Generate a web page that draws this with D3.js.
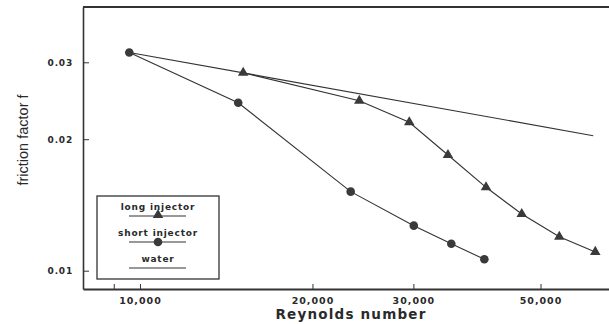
<!DOCTYPE html>
<html>
<head>
<meta charset="utf-8">
<script src="https://cdn.jsdelivr.net/npm/d3@7"></script>
<style>
  body { margin: 0; background: #fff; }
  svg { display: block; }
  .tick text { font-family: "DejaVu Sans", sans-serif; font-weight: bold; fill: #2a2a2a; }
  .legend text { font-family: "DejaVu Sans", sans-serif; font-weight: bold; font-size: 9px; fill: #2a2a2a; }
</style>
</head>
<body>
<div id="chart"></div>
<script>
// values (log-log plot)
const longRe = [15140, 24140, 29510, 34470, 40170, 46370, 53920, 62310];
const longF = [0.02839, 0.02449, 0.02186, 0.01840, 0.01552, 0.01348, 0.01196, 0.01104];

const shortRe = [9580, 14840, 23320, 30050, 34940, 39900];
const shortF = [0.0316, 0.02424, 0.01517, 0.01268, 0.01153, 0.01062];

const waterRe = [9580, 61800];
const waterF = [0.0316, 0.02037];

const xTicks = [9000, 10000, 20000, 30000, 50000];
const xTickLabels = ['', '10,000', '20,000', '30,000', '50,000'];
const yTicks = [0.01, 0.02, 0.03];
const yTickLabels = ['0.01', '0.02', '0.03'];

const legendNames = ['long injector', 'short injector', 'water'];

const width = 609, height = 324;
const plotLeft = 83, plotTop = 7, plotBottom = 289, plotRight = 611;
const ink = '#333';

const svg = d3.select('#chart').append('svg')
    .attr('width', width)
    .attr('height', height);

// scales
const x = d3.scaleLog().domain([7954, 66370]).range([plotLeft, plotRight]);
const y = d3.scaleLog().domain([0.00908, 0.04015]).range([plotBottom, plotTop]);

const zip = (xs, ys) => xs.map((v, i) => ({ re: v, f: ys[i] }));
const longData = zip(longRe, longF);
const shortData = zip(shortRe, shortF);
const waterData = zip(waterRe, waterF);

// axes, ticks point inward
const xAxis = d3.axisBottom(x)
    .tickValues(xTicks)
    .tickFormat((d, i) => xTickLabels[i])
    .tickSizeInner(-5)
    .tickSizeOuter(0)
    .tickPadding(8);

const yAxis = d3.axisLeft(y)
    .tickValues(yTicks)
    .tickFormat((d, i) => yTickLabels[i])
    .tickSizeInner(-6)
    .tickSizeOuter(0)
    .tickPadding(10);

const xAxisG = svg.append('g')
    .attr('transform', `translate(0,${plotBottom})`)
    .call(xAxis);
xAxisG.select('.domain').attr('stroke', ink).attr('stroke-width', 2);
xAxisG.selectAll('.tick line').attr('stroke', ink);
xAxisG.selectAll('.tick text').attr('font-size', 9.5).attr('letter-spacing', 1);

const yAxisG = svg.append('g')
    .attr('transform', `translate(${plotLeft},0)`)
    .call(yAxis);
yAxisG.select('.domain').attr('stroke', ink).attr('stroke-width', 1.6);
yAxisG.selectAll('.tick line').attr('stroke', ink);
yAxisG.selectAll('.tick text').attr('font-size', 9).attr('letter-spacing', 0.8);

// top frame line
svg.append('line')
    .attr('x1', plotLeft).attr('x2', width)
    .attr('y1', plotTop).attr('y2', plotTop)
    .attr('stroke', ink).attr('stroke-width', 2);

// axis titles
svg.append('text')
    .attr('x', 351).attr('y', 319)
    .attr('text-anchor', 'middle')
    .attr('font-family', '"DejaVu Sans", sans-serif')
    .attr('font-weight', 'bold')
    .attr('font-size', 13.5)
    .attr('letter-spacing', 1.2)
    .attr('fill', '#2a2a2a')
    .text('Reynolds number');

svg.append('text')
    .attr('transform', `translate(28,140) rotate(-90)`)
    .attr('text-anchor', 'middle')
    .attr('font-family', '"Liberation Sans", Arial, sans-serif')
    .attr('font-size', 14.5)
    .attr('fill', '#2a2a2a')
    .text('friction factor f');

// lines
const line = d3.line().x(d => x(d.re)).y(d => y(d.f));

[waterData, shortData, longData].forEach(data => {
    svg.append('path')
        .datum(data)
        .attr('d', line)
        .attr('fill', 'none')
        .attr('stroke', ink)
        .attr('stroke-width', 1.1);
});

const tri = d3.symbol().type(d3.symbolTriangle).size(48);

svg.append('g').selectAll('path')
    .data(longData)
    .join('path')
    .attr('d', tri)
    .attr('transform', d => `translate(${x(d.re)},${y(d.f)})`)
    .attr('fill', '#3a3a3a');

svg.append('g').selectAll('circle')
    .data(shortData)
    .join('circle')
    .attr('cx', d => x(d.re))
    .attr('cy', d => y(d.f))
    .attr('r', 4.3)
    .attr('fill', '#3a3a3a');

// legend
const legend = svg.append('g').attr('class', 'legend');
legend.append('rect')
    .attr('x', 97).attr('y', 196)
    .attr('width', 122).attr('height', 83)
    .attr('fill', '#fff')
    .attr('stroke', ink)
    .attr('stroke-width', 1.3);

legendNames.forEach((name, i) => {
    const ty = 210 + i * 26;
    legend.append('text')
        .attr('x', 158).attr('y', ty)
        .attr('text-anchor', 'middle')
        .attr('letter-spacing', 0.8)
        .text(name);
    legend.append('line')
        .attr('x1', 129).attr('x2', 186)
        .attr('y1', ty + 6).attr('y2', ty + 6)
        .attr('stroke', ink).attr('stroke-width', 1.1);
    if (i === 0) {
        legend.append('path')
            .attr('d', tri)
            .attr('transform', `translate(158,${ty + 5})`)
            .attr('fill', '#3a3a3a');
    } else if (i === 1) {
        legend.append('circle')
            .attr('cx', 158).attr('cy', ty + 6)
            .attr('r', 4.3)
            .attr('fill', '#3a3a3a');
    }
});
</script>
</body>
</html>
